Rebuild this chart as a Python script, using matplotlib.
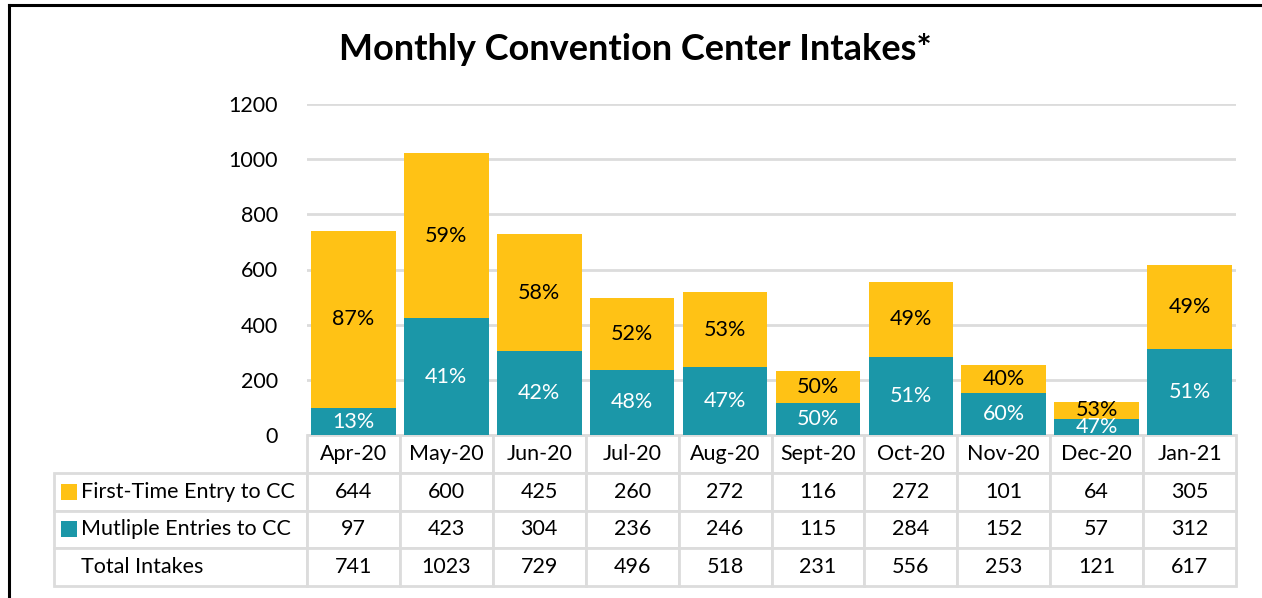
import matplotlib.pyplot as plt
from matplotlib.lines import Line2D

months = ["Apr-20", "May-20", "Jun-20", "Jul-20", "Aug-20",
          "Sept-20", "Oct-20", "Nov-20", "Dec-20", "Jan-21"]
first_time = [644, 600, 425, 260, 272, 116, 272, 101, 64, 305]
multiple = [97, 423, 304, 236, 246, 115, 284, 152, 57, 312]
totals = [741, 1023, 729, 496, 518, 231, 556, 253, 121, 617]
row_labels = ["First-Time Entry to CC", "Mutliple Entries to CC", "Total Intakes"]

GOLD = "#FFC215"
TEAL = "#1B97A8"
GRID = "#DCDCDC"
FS = 15.5

plt.rcParams['font.family'] = ['Lato', 'DejaVu Sans']

W, H = 1262, 598
fig = plt.figure(figsize=(W / 100, H / 100), dpi=100)

x0, x1 = 307, 1236
y0, y1 = 435, 104
ax = fig.add_axes([x0 / W, 1 - y0 / H, (x1 - x0) / W, (y0 - y1) / H])

xs = list(range(len(months)))
ax.bar(xs, multiple, width=0.91, color=TEAL, zorder=2)
ax.bar(xs, first_time, width=0.91, bottom=multiple, color=GOLD, zorder=2)

for i in xs:
    tot = first_time[i] + multiple[i]
    p_first = round(100 * first_time[i] / tot)
    p_mult = 100 - p_first
    ax.text(i, multiple[i] / 2, f"{p_mult}%", ha="center", va="center",
            color="white", fontsize=FS, zorder=3, clip_on=True)
    ax.text(i, multiple[i] + first_time[i] / 2, f"{p_first}%", ha="center",
            va="center", color="black", fontsize=FS, zorder=3)

ax.set_xlim(-0.5, len(months) - 0.5)
ax.set_ylim(0, 1200)
ax.set_yticks(range(0, 1201, 200))
ax.yaxis.grid(True, color=GRID, linewidth=2, zorder=0)
ax.set_axisbelow(True)
ax.tick_params(axis="y", length=0, pad=21, labelsize=FS)
ax.set_xticks([])
for s in ax.spines.values():
    s.set_visible(False)

# data table below the bars
cell_text = [[""] + months]
cell_text.append(["    " + row_labels[0]] + [str(v) for v in first_time])
cell_text.append(["    " + row_labels[1]] + [str(v) for v in multiple])
cell_text.append(["    " + row_labels[2]] + [str(v) for v in totals])

lab_w = (x0 - 54) / (x1 - x0)
tb_h = (586 - y0) / (y0 - y1)
col_w = [lab_w] + [0.1] * len(months)
tb = ax.table(cellText=cell_text, colWidths=col_w, cellLoc="center",
              bbox=[-lab_w, -tb_h, 1 + lab_w, tb_h])
tb.auto_set_font_size(False)
for (r, c), cell in tb.get_celld().items():
    cell.set_edgecolor(GRID)
    cell.set_linewidth(2)
    cell.get_text().set_fontsize(FS)
    if c == 0:
        cell.get_text().set_ha("left")
        cell._loc = "left"
        cell.PAD = 0.02
    if r == 0 and c == 0:
        cell.visible_edges = ""

# legend squares in the row labels
sq_x = (69 - x0) / (x1 - x0)
row_h = tb_h / 4
for k, col in enumerate([GOLD, TEAL]):
    yc = -row_h * (1.5 + k)
    ax.scatter([sq_x], [yc], marker="s", s=130, color=col, linewidths=0,
               transform=ax.transAxes, clip_on=False, zorder=4)

fig.text(635 / W, 1 - 49 / H, "Monthly Convention Center Intakes*",
         ha="center", va="center", fontsize=26, fontweight="bold")

# outer frame (left and top only visible)
fig.add_artist(Line2D([8.5 / W, 8.5 / W], [0, 1 - 5 / H], color="black",
                      linewidth=2.2, transform=fig.transFigure))
fig.add_artist(Line2D([8.5 / W, 1], [1 - 5 / H, 1 - 5 / H], color="black",
                      linewidth=2.2, transform=fig.transFigure))

fig.savefig("out.png", dpi=100, facecolor="white")
